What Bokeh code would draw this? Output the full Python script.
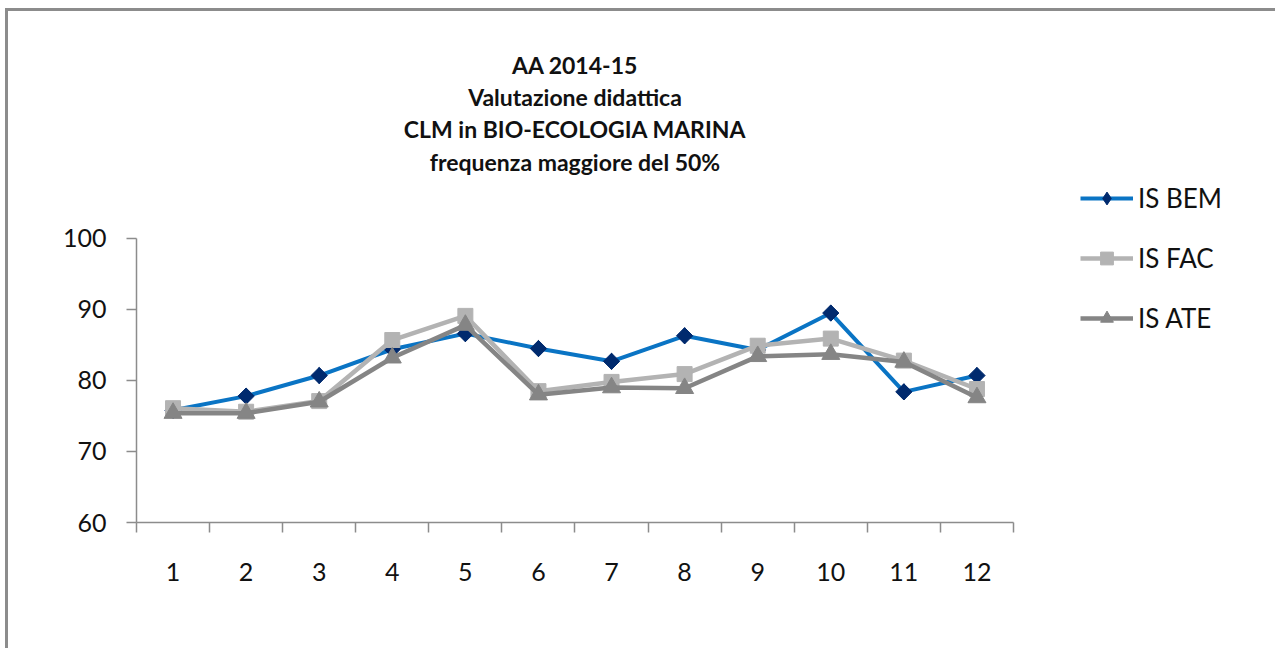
import numpy as np
from bokeh.plotting import figure
from bokeh.models import (Range1d, FixedTicker, Legend, LegendItem, Label)
from bokeh.embed import file_html
from bokeh.resources import INLINE

# ---- data ----
categories = list(range(1, 13))
tick_labels = [str(c) for c in categories]
is_bem = [75.8, 77.8, 80.7, 84.4, 86.6, 84.5, 82.7, 86.3, 84.3, 89.5, 78.4, 80.7]
is_fac = [76.1, 75.6, 77.1, 85.7, 89.1, 78.5, 79.8, 80.9, 84.9, 85.9, 82.8, 78.8]
is_ate = [75.4, 75.4, 77.0, 83.2, 87.8, 78.0, 79.0, 78.9, 83.4, 83.7, 82.6, 77.6]
series_names = ["IS BEM", "IS FAC", "IS ATE"]
title_lines = ["AA 2014-15", "Valutazione didattica",
               "CLM in BIO-ECOLOGIA MARINA", "frequenza maggiore del 50%"]
y_ticks = [60, 70, 80, 90, 100]

FONT = "Lato"
AXIS_COL = "#8c8c8c"

# frame spans the whole area right of / above the axes; axes limited via bounds
p = figure(width=1270, height=640, output_backend="svg", toolbar_location=None,
           x_range=Range1d(0.5, 16.126), y_range=Range1d(60, 131.97),
           min_border_left=128, min_border_right=0,
           min_border_top=0, min_border_bottom=129)
p.outline_line_color = None
p.xgrid.grid_line_color = None
p.ygrid.grid_line_color = None
p.styles = {"border-left": "3px solid #8c8c8c", "border-top": "3px solid #8c8c8c",
            "margin-left": "5px", "margin-top": "8px"}

# x axis
xa = p.xaxis[0]
xa.bounds = (0.5, 12.5)
xa.ticker = FixedTicker(ticks=categories,
                        minor_ticks=[c - 0.5 for c in categories] + [categories[-1] + 0.5])
xa.major_label_overrides = {c: t for c, t in zip(categories, tick_labels)}
xa.major_tick_line_color = None
xa.major_tick_out = 0
xa.major_tick_in = 0
xa.minor_tick_out = 10
xa.minor_tick_in = 0
xa.minor_tick_line_color = AXIS_COL
xa.minor_tick_line_width = 1.5
xa.axis_line_color = AXIS_COL
xa.axis_line_width = 1.5
xa.major_label_standoff = 30
xa.major_label_text_font = FONT
xa.major_label_text_font_size = "25px"
xa.major_label_text_color = "#111111"

# y axis
ya = p.yaxis[0]
ya.bounds = (60, 100)
ya.ticker = FixedTicker(ticks=y_ticks)
ya.major_tick_out = 10
ya.major_tick_in = 0
ya.minor_tick_line_color = None
ya.major_tick_line_color = AXIS_COL
ya.major_tick_line_width = 1.5
ya.axis_line_color = AXIS_COL
ya.axis_line_width = 1.5
ya.major_label_standoff = 20
ya.major_label_text_font = FONT
ya.major_label_text_font_size = "25px"
ya.major_label_text_color = "#111111"

# series
NAVY = "#002a6e"
l1 = p.line(categories, is_bem, line_color="#0a74c4", line_width=4)
d1 = p.scatter(categories, is_bem, marker="diamond", size=16,
               fill_color=NAVY, line_color=NAVY)  # used as legend swatch
m1 = p.scatter(categories, is_bem, marker="square", angle=np.pi / 4, size=11.5,
               fill_color=NAVY, line_color=NAVY)
l2 = p.line(categories, is_fac, line_color="#b3b3b3", line_width=4.5)
m2 = p.scatter(categories, is_fac, marker="square", size=15,
               fill_color="#b3b3b3", line_color="#b3b3b3")
l3 = p.line(categories, is_ate, line_color="#858585", line_width=4.5)
m3 = p.scatter(categories, is_ate, marker="triangle", size=18,
               fill_color="#858585", line_color="#858585")

legend = Legend(items=[LegendItem(label=series_names[0], renderers=[l1, d1]),
                       LegendItem(label=series_names[1], renderers=[l2, m2]),
                       LegendItem(label=series_names[2], renderers=[l3, m3])],
                location=(944, 188), orientation="vertical",
                glyph_width=53, glyph_height=32, label_height=32,
                spacing=28, label_standoff=5, padding=0, margin=0,
                border_line_color=None, background_fill_alpha=0,
                label_text_font=FONT, label_text_font_size="26px",
                label_text_color="#111111")
p.add_layout(legend)

# title lines (data units above the plotted area)
title_y = [124.4, 119.9, 115.4, 110.8]
for txt, ty in zip(title_lines, title_y):
    p.add_layout(Label(x=6.5, y=ty, text=txt, text_align="center",
                       text_baseline="middle", text_font=FONT,
                       text_font_style="bold", text_font_size="23px",
                       text_color="#111111"))

open("out.html", "w").write(file_html(p, INLINE))
